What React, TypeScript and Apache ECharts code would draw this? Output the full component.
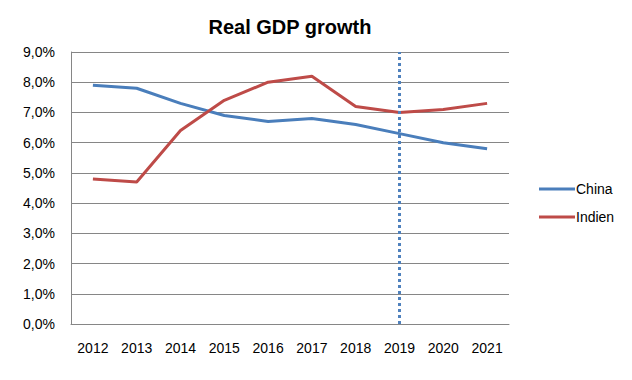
import React, { useEffect, useRef } from "react";
import * as echarts from "echarts";

const years = ["2012", "2013", "2014", "2015", "2016", "2017", "2018", "2019", "2020", "2021"];
const china = [7.9, 7.8, 7.3, 6.9, 6.7, 6.8, 6.6, 6.3, 6.0, 5.8];
const indien = [4.8, 4.7, 6.4, 7.4, 8.0, 8.2, 7.2, 7.0, 7.1, 7.3];
const markerYear = "2019";

export default function App() {
  const ref = useRef<HTMLDivElement>(null);
  useEffect(() => {
    const chart = echarts.init(ref.current!, null, { renderer: "svg" });
    const font = "Liberation Sans, Arial, sans-serif";
    chart.setOption({
      animation: false,
      backgroundColor: "#ffffff",
      title: {
        text: "Real GDP growth",
        left: 285,
        textAlign: "center",
        top: 12,
        textStyle: { fontFamily: font, fontWeight: "bold", fontSize: 20, color: "#000" },
      },
      legend: {
        orient: "vertical",
        left: 534,
        top: 177,
        itemGap: 14,
        itemWidth: 36,
        itemHeight: 3,
        icon: "rect",
        textStyle: { fontFamily: font, fontSize: 14, color: "#000", padding: [0, 0, 0, -4] },
        data: ["China", "Indien"],
      },
      grid: { left: 71, right: 123, top: 52, bottom: 56 },
      xAxis: {
        type: "category",
        data: years,
        boundaryGap: true,
        axisLine: { lineStyle: { color: "#868686" } },
        axisTick: { show: false },
        axisLabel: { fontFamily: font, fontSize: 14, color: "#000", margin: 17 },
      },
      yAxis: {
        type: "value",
        min: 0,
        max: 9,
        interval: 1,
        axisLine: { show: true, lineStyle: { color: "#868686" } },
        axisTick: { show: false },
        splitLine: { lineStyle: { color: "#868686" } },
        axisLabel: {
          fontFamily: font,
          fontSize: 14,
          color: "#000",
          margin: 16,
          formatter: (v: number) => v.toFixed(1).replace(".", ",") + "%",
        },
      },
      series: [
        {
          name: "China",
          type: "line",
          data: china,
          symbol: "none",
          lineStyle: { color: "#4A7EBB", width: 3 },
          itemStyle: { color: "#4A7EBB" },
          markLine: {
            silent: true,
            symbol: "none",
            label: { show: false },
            lineStyle: { color: "#4F81BD", type: [3, 3], width: 3 },
            data: [{ xAxis: markerYear }],
          },
        },
        {
          name: "Indien",
          type: "line",
          data: indien,
          symbol: "none",
          lineStyle: { color: "#BE4B48", width: 3 },
          itemStyle: { color: "#BE4B48" },
        },
      ],
    });
    return () => chart.dispose();
  }, []);
  return <div ref={ref} style={{ width: 632, height: 380, position: "absolute", left: 0, top: 0 }} />;
}
